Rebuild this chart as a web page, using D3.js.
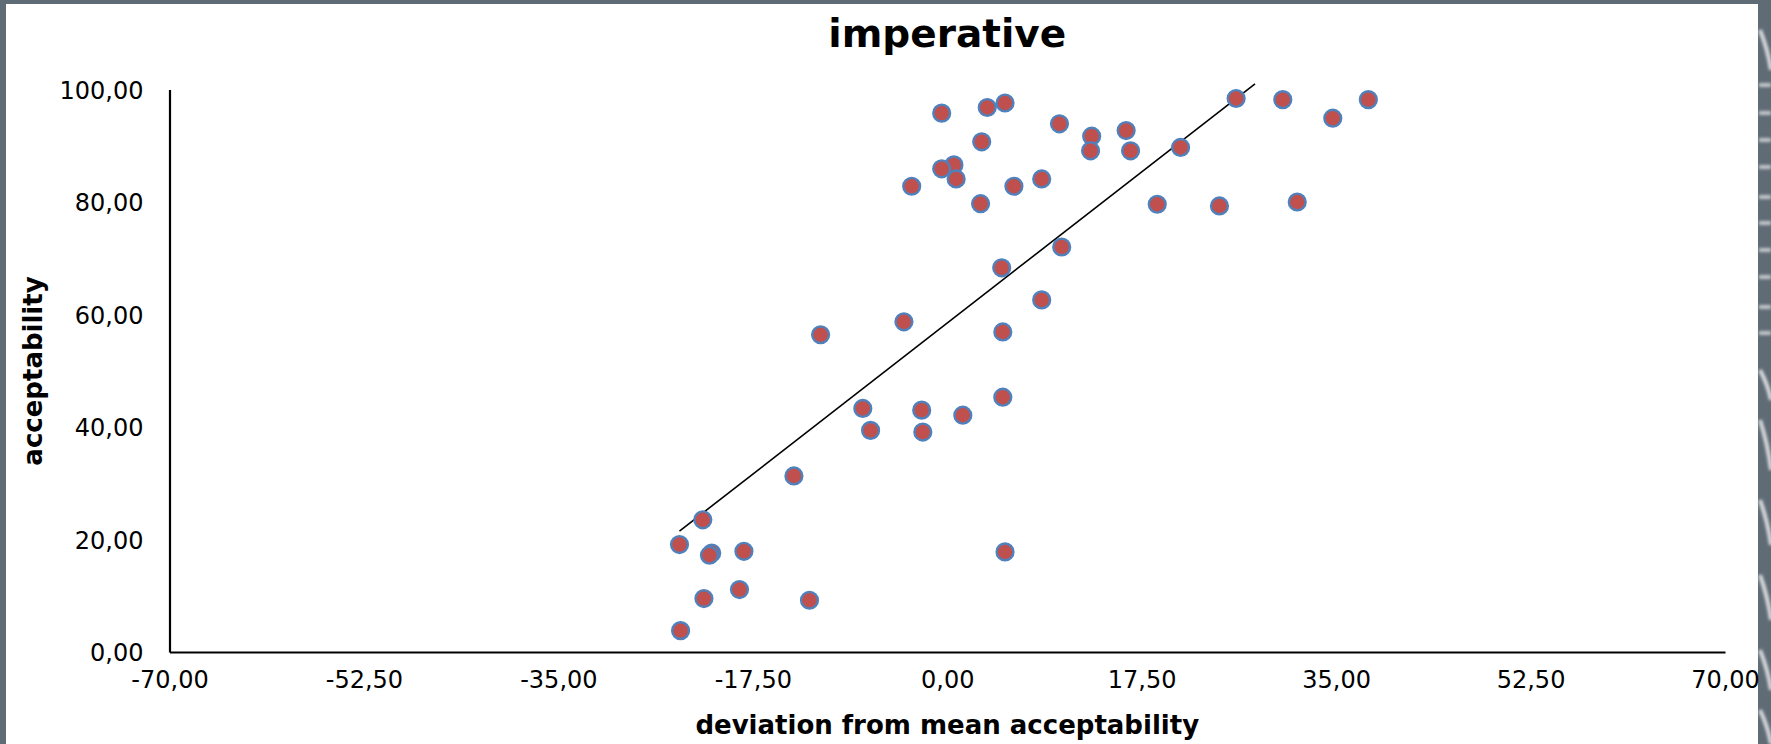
<!DOCTYPE html>
<html>
<head>
<meta charset="utf-8">
<script src="https://cdn.jsdelivr.net/npm/d3@7/dist/d3.min.js"></script>
<style>
  html, body { margin: 0; padding: 0; background: #ffffff; }
  svg { display: block; }
  text { font-family: "DejaVu Sans", Verdana, sans-serif; fill: #000; }
</style>
</head>
<body>
<svg id="chart" width="1771" height="744"></svg>
<script>
// Deviation of each item from the mean acceptability (x) and its acceptability (y)
const deviation = [
  -0.5, 3.6, 5.2, 10.1, 13.0, 12.9, 3.1, 0.6, -0.5, 0.8,
  -3.2, 6.0, 8.5, 3.0, 10.3, 4.9, 8.5, -3.9, -11.4, 5.0,
  5.0, -7.6, -2.3, 1.4, -6.9, -2.2, -13.8, -22.0, -24.1, -21.2,
  -21.4, -18.3, 5.2, -18.7, -21.9, -12.4, -24.0, 16.1, 16.5, 21.0,
  26.0, 30.2, 34.7, 37.9, 18.9, 24.5, 31.5
];
const acceptability = [
  95.8, 96.8, 97.6, 93.9, 91.7, 89.1, 90.7, 86.6, 85.9, 84.1,
  82.8, 82.8, 84.1, 79.7, 72.0, 68.3, 62.6, 58.7, 56.4, 56.9,
  45.3, 43.3, 43.0, 42.1, 39.4, 39.1, 31.3, 23.5, 19.1, 17.6,
  17.2, 17.9, 17.8, 11.1, 9.5, 9.2, 3.8, 92.7, 89.1, 89.7,
  98.4, 98.2, 94.9, 98.2, 79.6, 79.3, 80.0
];

// Linear trend line end points
const trendX = [-24.1, 27.7];
const trendY = [21.5, 101.0];

// Axis ticks
const xTicks = [-70, -52.5, -35, -17.5, 0, 17.5, 35, 52.5, 70];
const yTicks = [0, 20, 40, 60, 80, 100];

const chartTitle = "imperative";
const xTitle = "deviation from mean acceptability";
const yTitle = "acceptability";

const svg = d3.select("#chart");
const W = 1771, H = 744;

// Soft blur for the frame decoration
const defs = svg.append("defs");
defs.append("filter").attr("id", "soft").append("feGaussianBlur").attr("stdDeviation", 1.6);

// Slate frame around the white panel
const frame = "#5f6b75";
svg.append("rect").attr("x", 0).attr("y", 0).attr("width", W).attr("height", H).attr("fill", frame);
svg.append("rect").attr("x", 6).attr("y", 4).attr("width", 1758 - 6).attr("height", H - 4).attr("fill", "#ffffff");

// Light stripes and swirls on the right edge of the frame
const deco = svg.append("g").attr("filter", "url(#soft)");
const stripeYs = [85, 113, 140, 167, 197, 223, 250, 277, 307, 333];
deco.selectAll("rect").data(stripeYs).join("rect")
  .attr("x", 1759).attr("y", d => d - 2).attr("width", 12).attr("height", 4)
  .attr("fill", "#c3c8cc");
const swirl = deco.append("g").attr("fill", "none").attr("stroke", "#d9dde0").attr("stroke-width", 4);
[[30, 70], [370, 400], [420, 470], [500, 545], [575, 620], [650, 690], [710, 744]].forEach(([a, b]) => {
  swirl.append("path").attr("d", `M1760,${a} Q1768,${(a + b) / 2} 1771,${b}`);
});

// Number format with a decimal comma
const locale = d3.formatLocale({ decimal: ",", thousands: ".", grouping: [3], currency: ["", ""], minus: "-" });
const fmt = locale.format(".2f");

// Scales
const x = d3.scaleLinear().domain([-70, 70]).range([169.5, 1725]);
const y = d3.scaleLinear().domain([0, 100]).range([652, 89.5]);

// Title
svg.append("text")
  .attr("x", x(0)).attr("y", 47)
  .attr("text-anchor", "middle")
  .attr("font-size", 39).attr("font-weight", "bold")
  .text(chartTitle);

// X axis
const gx = svg.append("g").attr("transform", `translate(0,${y(0)})`)
  .call(d3.axisBottom(x).tickValues(xTicks).tickFormat(fmt).tickSize(0).tickSizeOuter(0));
gx.select(".domain").attr("stroke", "#000").attr("stroke-width", 2.2);
gx.selectAll(".tick text")
  .attr("font-size", 24).attr("font-family", "DejaVu Sans")
  .attr("fill", "#000")
  .attr("y", 27).attr("dy", "0.36em");

// Y axis
const gy = svg.append("g").attr("transform", `translate(${x(-70)},0)`)
  .call(d3.axisLeft(y).tickValues(yTicks).tickFormat(fmt).tickSize(0).tickSizeOuter(0));
gy.select(".domain").attr("stroke", "#000").attr("stroke-width", 2.2);
gy.selectAll(".tick text")
  .attr("font-size", 24).attr("font-family", "DejaVu Sans")
  .attr("fill", "#000")
  .attr("x", -26).attr("dy", "0.36em");

// Axis titles
svg.append("text")
  .attr("x", x(0)).attr("y", 734)
  .attr("text-anchor", "middle")
  .attr("font-size", 26).attr("font-weight", "bold")
  .text(xTitle);

svg.append("text")
  .attr("transform", "translate(42,371) rotate(-90)")
  .attr("text-anchor", "middle")
  .attr("font-size", 26).attr("font-weight", "bold")
  .text(yTitle);

// Trend line
svg.append("line")
  .attr("x1", x(trendX[0])).attr("y1", y(trendY[0]))
  .attr("x2", x(trendX[1])).attr("y2", y(trendY[1]))
  .attr("stroke", "#000").attr("stroke-width", 1.6);

// Points
const points = deviation.map((d, i) => ({ dx: d, acc: acceptability[i] }));
svg.append("g").selectAll("circle").data(points).join("circle")
  .attr("cx", d => x(d.dx))
  .attr("cy", d => y(d.acc))
  .attr("r", 8.4)
  .attr("fill", "#c0504d")
  .attr("stroke", "#4f81bd")
  .attr("stroke-width", 2.4);
</script>
</body>
</html>
